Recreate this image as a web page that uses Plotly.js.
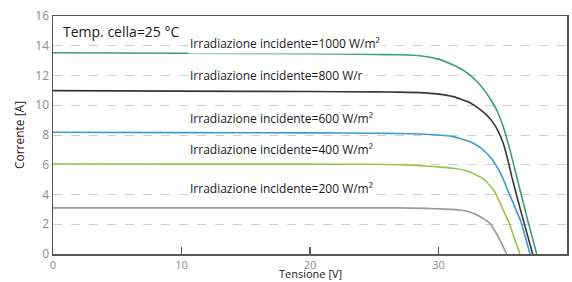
<!DOCTYPE html>
<html>
<head>
<meta charset="utf-8">
<script src="https://cdn.plot.ly/plotly-3.0.1.min.js"></script>
<style>html,body{margin:0;padding:0;background:#fff;}#chart{width:572px;height:282px;}</style>
</head>
<body>
<div id="chart"></div>
<script>
// Data (Tensione [V] vs Corrente [A])
const v1000 = [0, 10, 20, 25, 27, 28.56, 30, 31.15, 31.8, 32.45, 33.1, 33.75, 34.15, 34.53, 35.04, 35.56, 36.0, 36.94, 37.64];
const i1000 = [13.53, 13.5, 13.46, 13.42, 13.39, 13.33, 13.1, 12.7, 12.42, 12.03, 11.5, 10.8, 10.25, 9.68, 8.56, 7.0, 5.5, 2.27, 0];
const v800 = [0, 10, 20, 25, 27, 28.56, 30, 31.15, 32.45, 33.1, 33.75, 34.15, 34.53, 35.04, 35.43, 35.7, 36.4, 37.33];
const i800 = [10.98, 10.95, 10.92, 10.9, 10.88, 10.85, 10.75, 10.58, 10.17, 9.8, 9.34, 8.95, 8.45, 7.44, 6.2, 5.2, 2.9, 0];
const v600 = [0, 10, 20, 25, 27, 28.56, 30, 31.15, 32.45, 33.1, 33.75, 34.15, 34.53, 34.9, 35.43, 36.4, 37.12];
const i600 = [8.18, 8.16, 8.14, 8.12, 8.1, 8.07, 8.0, 7.89, 7.55, 7.25, 6.77, 6.38, 5.87, 5.3, 4.2, 2.2, 0];
const v400 = [0, 10, 20, 25, 27, 28.56, 30, 31.15, 32.2, 32.97, 33.49, 34.0, 34.4, 34.8, 35.3, 35.5, 35.95, 36.34];
const i400 = [6.05, 6.04, 6.04, 6.03, 6.0, 5.94, 5.86, 5.76, 5.58, 5.3, 5.05, 4.6, 4.15, 3.41, 2.45, 2.1, 0.94, 0];
const v200 = [0, 10, 20, 25, 27, 29, 30.5, 31.7, 32.5, 33.0, 33.5, 34.0, 34.65, 35.3];
const i200 = [3.1, 3.1, 3.1, 3.1, 3.1, 3.07, 3.02, 2.96, 2.8, 2.62, 2.38, 2.06, 1.16, 0];

const seriesColors = ['#3f9f78', '#383536', '#3e9ad4', '#9dc24c', '#9a9a9a'];
const curveLabels = [
  'Irradiazione incidente=1000 W/m²',
  'Irradiazione incidente=800 W/r',
  'Irradiazione incidente=600 W/m²',
  'Irradiazione incidente=400 W/m²',
  'Irradiazione incidente=200 W/m²'
];
const labelX = [10.5, 10.5, 10.5, 10.5, 10.5];
const labelY = [14.12, 12.03, 9.1, 7.0, 4.38];
const tempLabel = 'Temp. cella=25 °C';
const xTitle = 'Tensione [V]';
const yTitle = 'Corrente [A]';
const xTicks = [0, 10, 20, 30, 40];
const yTicks = [0, 2, 4, 6, 8, 10, 12, 14, 16];

const xs = [v1000, v800, v600, v400, v200];
const ys = [i1000, i800, i600, i400, i200];

const traces = xs.map((x, k) => ({
  x: x, y: ys[k], type: 'scatter', mode: 'lines',
  line: {color: seriesColors[k], width: 1.6, shape: 'spline', smoothing: 0.4},
  hoverinfo: 'skip', showlegend: false
}));

const txtFont = 'Open Sans, Noto Sans, sans-serif';
const annotations = curveLabels.map((t, k) => ({
  x: labelX[k], y: labelY[k], xref: 'x', yref: 'y', text: t,
  showarrow: false, xanchor: 'left', yanchor: 'middle',
  bgcolor: '#ffffff', borderpad: 1,
  font: {family: txtFont, size: 12, color: '#1a1a1a'}
}));
annotations.push({
  x: 0.015, y: 0.985, xref: 'paper', yref: 'paper', text: tempLabel,
  showarrow: false, xanchor: 'left', yanchor: 'top',
  font: {family: txtFont, size: 14, color: '#1a1a1a'}
});
annotations.push({
  x: 0.5, y: -0.1176, xref: 'paper', yref: 'paper', text: xTitle,
  showarrow: false, xanchor: 'center', yanchor: 'bottom', borderpad: 0,
  font: {family: txtFont, size: 11, color: '#1a1a1a'}
});

const layout = {
  width: 572, height: 282,
  margin: {l: 53, r: 5, t: 16, b: 28},
  paper_bgcolor: '#ffffff', plot_bgcolor: '#ffffff',
  font: {family: txtFont},
  xaxis: {
    range: [0, 40], tickvals: xTicks, ticktext: xTicks.map(String),
    showgrid: false, zeroline: false,
    showline: true, linecolor: '#5a5555', linewidth: 1.5, mirror: true,
    ticks: 'inside', ticklen: 7, tickcolor: '#5a5555', tickwidth: 1.2,
    tickfont: {size: 11, color: '#8a8a8a'}
  },
  yaxis: {
    range: [0, 16], tickvals: yTicks, ticktext: yTicks.map(String),
    showgrid: true, gridcolor: '#cfcfcf', griddash: 'dash', gridwidth: 1,
    zeroline: false,
    showline: true, linecolor: '#5a5555', linewidth: 1.5, mirror: true,
    ticks: '', tickfont: {size: 12, color: '#8a8a8a'},
    title: {text: yTitle, standoff: 8, font: {size: 12, color: '#1a1a1a'}}
  },
  annotations: annotations
};

Plotly.newPlot('chart', traces, layout, {staticPlot: true, displayModeBar: false});
</script>
</body>
</html>
